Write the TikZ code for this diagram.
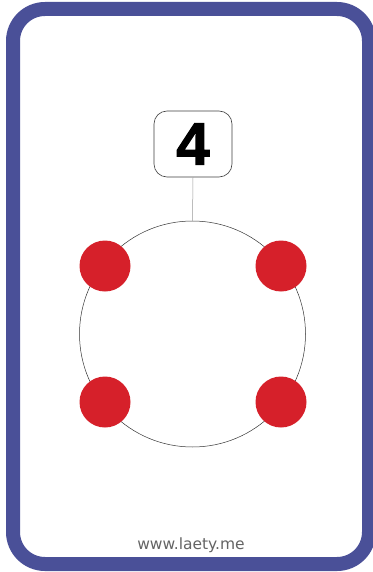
\documentclass[tikz,border=0pt]{standalone}
\usepackage{fontspec}
\setmainfont{Liberation Sans}
\newfontfamily\heavyfont[FakeBold=1.8]{Liberation Sans Bold}
\newfontfamily\urlfont{DejaVu Sans}
\definecolor{cardblue}{RGB}{74,80,152}
\definecolor{dotred}{RGB}{214,32,42}
\definecolor{urlgray}{RGB}{100,100,100}
\begin{document}
\begin{tikzpicture}[x=1pt,y=-1pt,
  ringstyle/.style={circle,draw=black!80,line width=0.5pt,minimum size=226pt,inner sep=0pt},
  dotstyle/.style={circle,fill=dotred,minimum size=51pt,inner sep=0pt},
  numbox/.style={draw=black!75,line width=0.6pt,rounded corners=13pt,minimum width=78pt,minimum height=66pt,inner sep=0pt,fill=white},
  linkline/.style={draw=black!40,line width=0.5pt}]
\useasboundingbox (0,0) rectangle (372,572);
\fill[white] (0,0) rectangle (372,572);
\draw[cardblue,line width=14pt,rounded corners=32pt] (13,9) rectangle (369,564);
\node[ringstyle] (ring) at (192.5,334) {};
\node[numbox] (num) at (193,144) {\heavyfont\fontsize{60}{60}\selectfont 4};
\draw[linkline] (num.south) -- (ring.north);
\node[dotstyle] (d1) at (105,266) {};
\node[dotstyle] (d2) at (281,266) {};
\node[dotstyle] (d3) at (105,402) {};
\node[dotstyle] (d4) at (281,402) {};
\node[text=urlgray,anchor=base] (url) at (191,549) {\urlfont\fontsize{15.5}{15.5}\selectfont www.laety.me};
\end{tikzpicture}
\end{document}
